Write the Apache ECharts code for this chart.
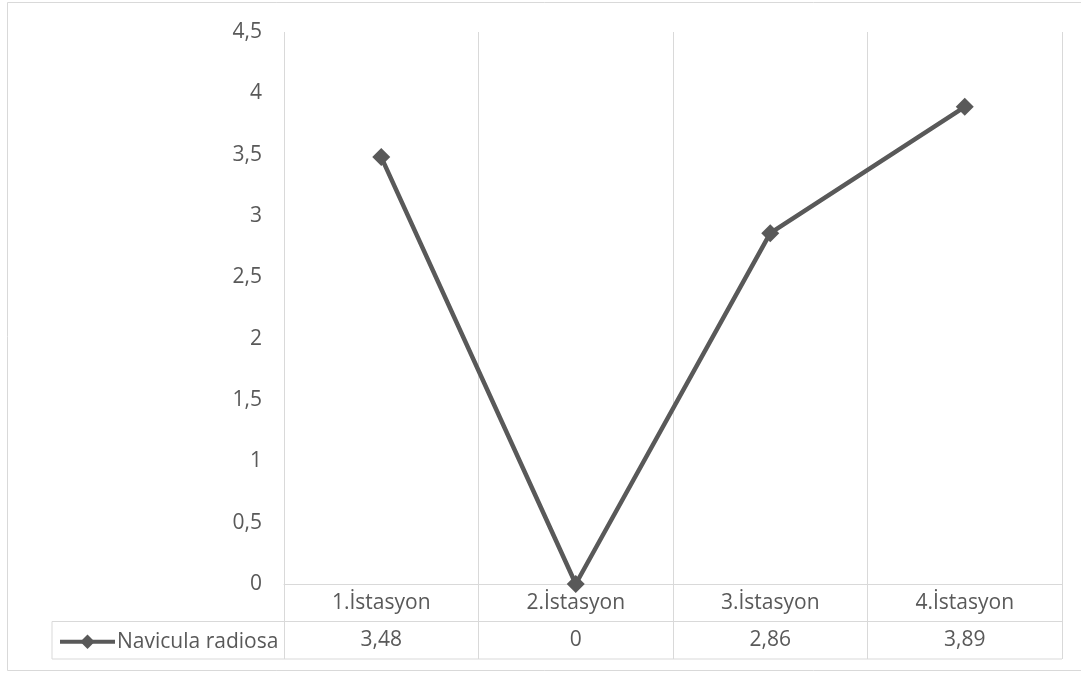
<!DOCTYPE html>
<html>
<head>
<meta charset="utf-8">
<script src="https://cdn.jsdelivr.net/npm/echarts@6/dist/echarts.min.js"></script>
<style>
html,body{margin:0;padding:0;background:#fff;}
#c{width:1081px;height:673px;}
</style>
</head>
<body>
<div id="c"></div>
<script>
const categories = ['1.İstasyon', '2.İstasyon', '3.İstasyon', '4.İstasyon'];
const seriesName = 'Navicula radiosa';
const values = [3.48, 0, 2.86, 3.89];
const yTicks = { min: 0, max: 4.5, interval: 0.5 };

const fmt = v => String(v).replace('.', ',');
const FONT = '"Open Sans", "Noto Sans", sans-serif';
const TXT = '#595959';
const GRIDC = '#d9d9d9';
const FS = 21;

const W = 1081, H = 673;
const gridL = 284, gridR = 19, gridT = 32, gridB = 89;
const rowH = 37.5;
const plotBottom = H - gridB;
const row1 = plotBottom + rowH, row2 = plotBottom + 2 * rowH;
const legendCellL = 52;

const chart = echarts.init(document.getElementById('c'));
chart.setOption({
  animation: false,
  backgroundColor: '#fff',
  textStyle: { fontFamily: FONT },
  grid: { left: gridL, right: gridR, top: gridT, bottom: gridB, containLabel: false },
  legend: {
    data: [seriesName],
    left: 58, top: row1 + rowH / 2 - 9,
    padding: 0,
    itemWidth: 55, itemHeight: 18, itemGap: 0,
    lineStyle: { width: 4, color: '#595959' },
    textStyle: { fontSize: FS, color: TXT, fontFamily: FONT, padding: [0, 0, 0, -3] }
  },
  xAxis: {
    type: 'category',
    data: categories,
    boundaryGap: true,
    axisLine: { show: true, lineStyle: { color: GRIDC, width: 1 } },
    axisTick: { show: true, length: rowH * 2, interval: 0, lineStyle: { color: GRIDC, width: 1 } },
    splitLine: { show: true, interval: 0, lineStyle: { color: GRIDC, width: 1 } },
    axisLabel: {
      interval: 0, margin: 0,
      formatter: (v, i) => '{c|' + v + '}\n{v|' + fmt(values[i]) + '}',
      rich: {
        c: { fontSize: FS, color: TXT, fontFamily: FONT, lineHeight: rowH, height: rowH },
        v: { fontSize: FS, color: TXT, fontFamily: FONT, lineHeight: rowH, height: rowH }
      }
    }
  },
  yAxis: {
    type: 'value',
    min: yTicks.min, max: yTicks.max, interval: yTicks.interval,
    axisLine: { show: false }, axisTick: { show: false },
    splitLine: { show: false },
    axisLabel: { fontSize: FS, color: TXT, fontFamily: FONT, margin: 22, formatter: v => fmt(v) }
  },
  series: [{
    name: seriesName,
    type: 'line',
    data: values,
    symbol: 'diamond',
    symbolSize: 18,
    lineStyle: { color: '#595959', width: 4.5 },
    itemStyle: { color: '#595959' }
  }],
  graphic: [
    { type: 'rect', shape: { x: 7.5, y: 2.5, width: W + 20, height: 668 }, style: { fill: 'none', stroke: GRIDC, lineWidth: 1 }, silent: true },
    { type: 'line', shape: { x1: legendCellL, y1: row1, x2: W - gridR, y2: row1 }, style: { stroke: GRIDC, lineWidth: 1 }, silent: true },
    { type: 'line', shape: { x1: legendCellL, y1: row2, x2: W - gridR, y2: row2 }, style: { stroke: GRIDC, lineWidth: 1 }, silent: true },
    { type: 'line', shape: { x1: legendCellL, y1: row1, x2: legendCellL, y2: row2 }, style: { stroke: GRIDC, lineWidth: 1 }, silent: true }
  ]
});
</script>
</body>
</html>
